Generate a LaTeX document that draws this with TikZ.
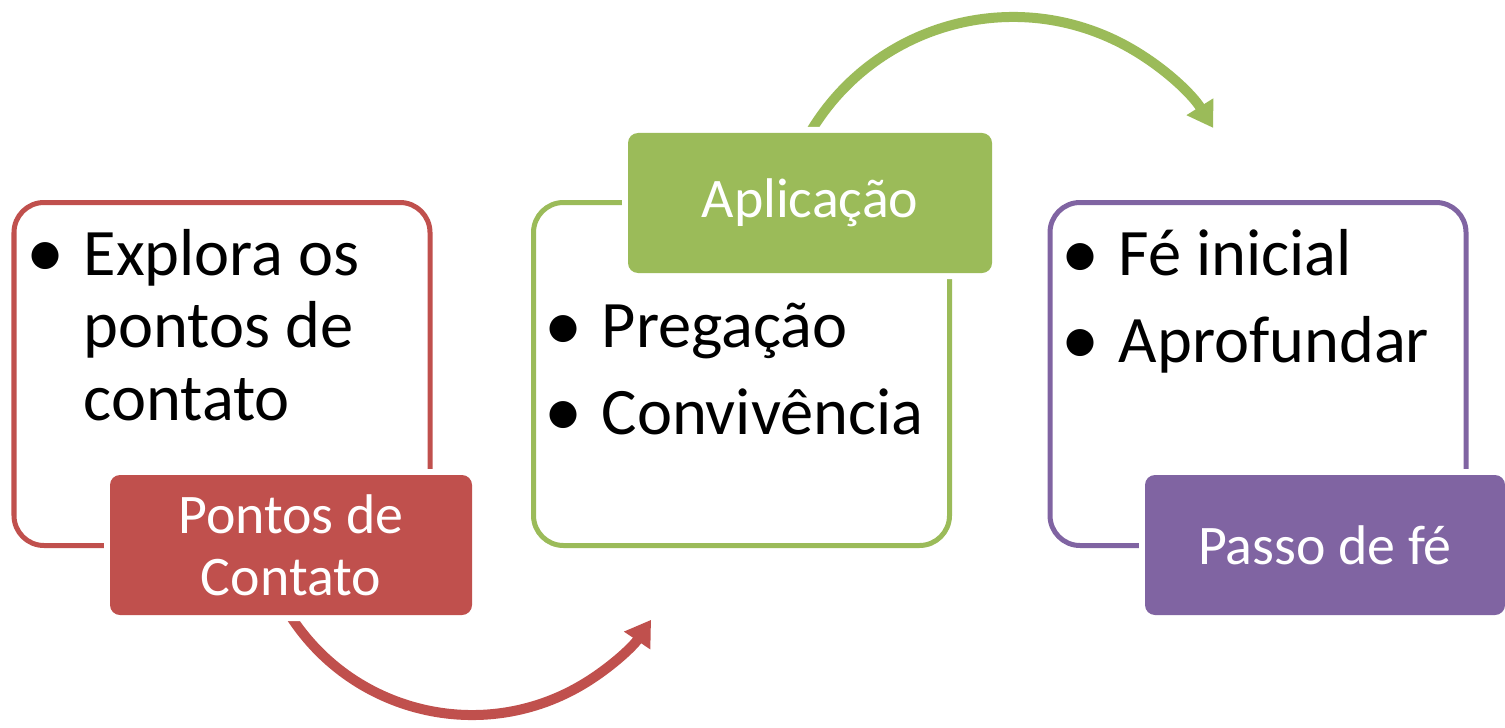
\documentclass[tikz,border=0pt]{standalone}
\usepackage{xcolor}
\usepackage{graphicx}
\usepackage{fontspec}
\setmainfont{Carlito}
\usetikzlibrary{shapes.geometric, arrows.meta, positioning}

\definecolor{contato}{HTML}{C0504D}
\definecolor{aplica}{HTML}{9BBB59}
\definecolor{passo}{HTML}{8064A2}

\newcommand{\bul}{\llap{\raisebox{-0.04em}{\scalebox{1.15}{\textbullet}}\hspace{0.19cm}}}

\tikzset{
  outerbox/.style={draw=#1, line width=0.05cm, rounded corners=0.3cm,
    minimum width=4.16cm, minimum height=3.43cm, inner sep=0pt},
  tagbox/.style={fill=#1, rounded corners=0.1cm, text=white,
    preaction={draw=white, line width=0.12cm},
    minimum width=3.62cm, minimum height=1.40cm, inner sep=0pt, align=center,
    font=\fontsize{15.9}{17.6}\selectfont},
  itemtxt/.style={anchor=base west, inner sep=0pt, align=left,
    font=\fontsize{18.9}{20.6}\selectfont},
  flow/.style={draw=#1, line width=0.1cm,
    -{Triangle[width=0.3cm, length=0.25cm]}}
}

\begin{document}
\begin{tikzpicture}
\useasboundingbox (0,0) rectangle (15.05,7.27);

% arrows between the steps
\coordinate (c1) at (4.72,2.28);
\coordinate (c2) at (10.13,4.74);
\draw[flow=contato] ([shift={(210:2.16)}]c1) arc[start angle=210, end angle=326, radius=2.16];
\draw[flow=aplica] ([shift={(152:2.36)}]c2) arc[start angle=152, end angle=32, radius=2.36];

% outer boxes
\node[outerbox=contato] (pontos) at (2.22,3.53) {};
\node[outerbox=aplica] (aplic) at (7.415,3.53) {};
\node[outerbox=passo] (passo) at (12.58,3.53) {};

% tags
\node[tagbox=contato] (pontostag) at (2.91,1.82) {Pontos de\\Contato};
\node[tagbox=aplica, minimum width=3.64cm] (aplictag) at (8.10,5.24) {Aplicação};
\node[tagbox=passo, minimum width=3.60cm] (passotag) at (13.25,1.82) {Passo de fé};

% bullet texts (anchored on the last line)
\node[itemtxt] (pontostxt) at (0.83,3.07) {\bul Explora os\\pontos de\\contato};
\node[itemtxt] (aplictxt) at (6.01,2.93) {\bul Pregação\\[0.14cm]\bul Convivência};
\node[itemtxt] (passotxt) at (11.18,3.65) {\bul Fé inicial\\[0.14cm]\bul Aprofundar};
\end{tikzpicture}
\end{document}
